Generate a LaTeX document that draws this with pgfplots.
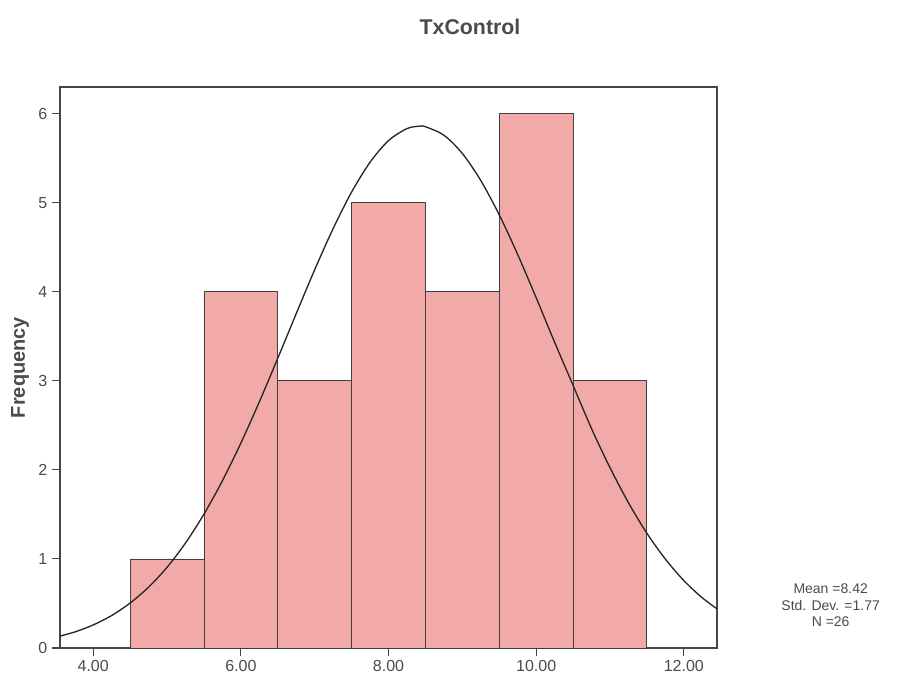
\documentclass[border=0pt]{standalone}
\usepackage{pgfplots}
\pgfplotsset{compat=1.18}
\usepackage{fontspec}
\setmainfont{Liberation Sans}

\definecolor{barfill}{RGB}{242,170,168}
\definecolor{frame}{RGB}{70,70,70}
\definecolor{titlegray}{RGB}{75,75,75}

\begin{document}
\begin{tikzpicture}
  \begin{axis}[
      name=ax,
      scale only axis,
      width=492.75pt, height=420.75pt,
      xmin=3.55, xmax=12.45,
      ymin=0, ymax=6.3,
      axis line style={frame, line width=0.8pt},
      tick style={frame, line width=0.8pt},
      tick align=outside,
      major tick length=6pt,
      xtick={4,6,8,10,12},
      ytick={0,1,2,3,4,5,6},
      xtick pos=bottom, ytick pos=left,
      x tick label style={/pgf/number format/.cd, fixed, fixed zerofill, precision=2},
      /pgf/number format/assume math mode=true,
      tick label style={font=\fontsize{12}{14}\selectfont, text=titlegray},
      ylabel={Frequency},
      every axis y label/.style={at={(rel axis cs:0,0.5)}, xshift=-30pt, rotate=90,
        anchor=center, font=\fontsize{15}{17}\selectfont\bfseries, text=titlegray},
    ]
    % histogram, bins of width 1
    \addplot[ybar interval, fill=barfill, draw=black!75, line width=0.6pt]
      coordinates {(4.5,1) (5.5,4) (6.5,3) (7.5,5) (8.5,4) (9.5,6) (10.5,3) (11.5,3)};
    % normal curve, mean 8.42, sd 1.77, N 26
    \addplot[black!85, line width=1pt, smooth, no marks] coordinates {
      (3.5,0.123) (3.75,0.180) (4.0,0.259) (4.25,0.365) (4.5,0.505) (4.75,0.683)
      (5.0,0.906) (5.25,1.179) (5.5,1.503) (5.75,1.878) (6.0,2.301) (6.25,2.764)
      (6.5,3.254) (6.75,3.755) (7.0,4.248) (7.25,4.710) (7.5,5.120) (7.75,5.455)
      (8.0,5.698) (8.25,5.833) (8.42,5.860) (8.5,5.854) (8.75,5.759) (9.0,5.554)
      (9.25,5.250) (9.5,4.865) (9.75,4.419) (10.0,3.934) (10.25,3.434) (10.5,2.950)
      (10.75,2.464) (11.0,2.026) (11.25,1.632) (11.5,1.289) (11.75,0.999) (12.0,0.758)
      (12.25,0.564) (12.5,0.411)
    };
  \end{axis}
  % title
  \node[font=\fontsize{16}{18}\selectfont\bfseries, text=titlegray]
    at ([xshift=307.5pt, yshift=465.75pt]ax.south west) {TxControl};
  % statistics
  \node[font=\fontsize{10.5}{12.5}\selectfont, text=titlegray, align=center]
    at ([xshift=578pt, yshift=32pt]ax.south west) {Mean =8.42\\Std. Dev. =1.77\\N =26};
  \path[use as bounding box] ([xshift=-45pt, yshift=-26.25pt]ax.south west)
    rectangle ([xshift=632.25pt, yshift=486pt]ax.south west);
\end{tikzpicture}
\end{document}
